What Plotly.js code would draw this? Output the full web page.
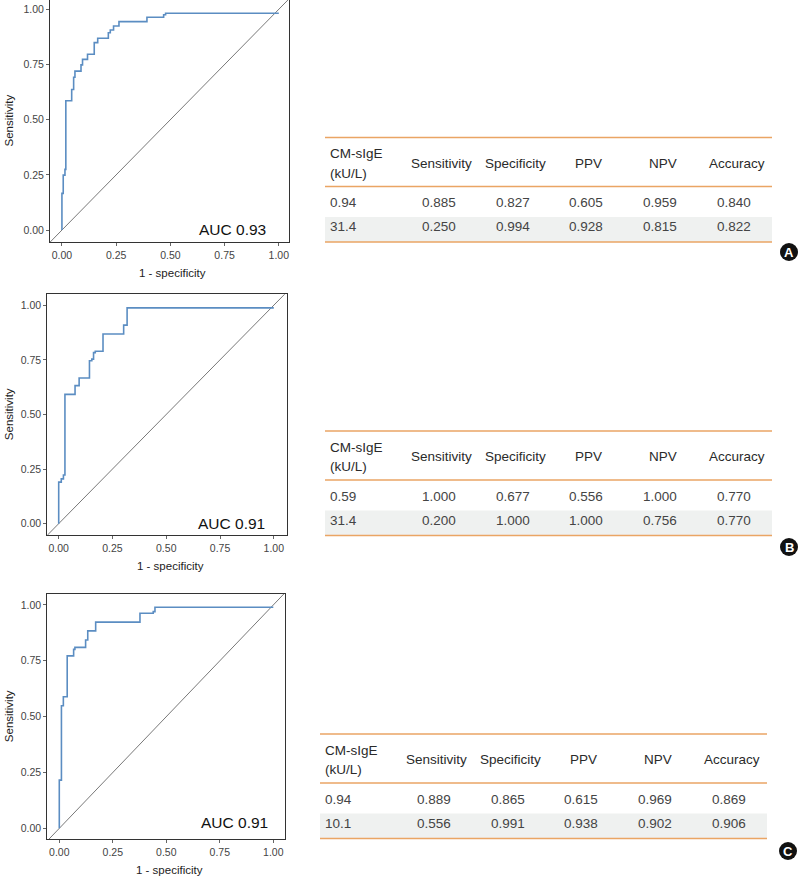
<!DOCTYPE html>
<html>
<head>
<meta charset="utf-8">
<script src="https://cdn.plot.ly/plotly-3.0.1.min.js"></script>
<style>html,body{margin:0;padding:0;background:#fff;}#chart{width:798px;height:879px;}</style>
</head>
<body>
<div id="chart"></div>
<script>
// ---- ROC data (1 - specificity, sensitivity) ----
const fprA = [0, 0, 0.006, 0.014, 0.018, 0.045, 0.054, 0.060, 0.088, 0.095, 0.118, 0.149, 0.165, 0.214, 0.223, 0.238, 0.263, 0.392, 0.469, 0.478, 1.0];
const tprA = [0, 0.166, 0.249, 0.275, 0.586, 0.637, 0.692, 0.720, 0.748, 0.773, 0.796, 0.849, 0.869, 0.894, 0.906, 0.924, 0.944, 0.964, 0.975, 0.982, 0.982];
const fprB = [0, 0, 0.012, 0.022, 0.029, 0.076, 0.095, 0.143, 0.154, 0.162, 0.170, 0.206, 0.302, 0.318, 1.0];
const tprB = [0, 0.190, 0.205, 0.223, 0.592, 0.632, 0.667, 0.746, 0.753, 0.783, 0.789, 0.868, 0.909, 0.988, 0.988];
const fprC = [0, 0, 0.010, 0.019, 0.037, 0.067, 0.073, 0.123, 0.133, 0.170, 0.377, 0.439, 0.447, 1.0];
const tprC = [0, 0.216, 0.549, 0.589, 0.772, 0.801, 0.810, 0.843, 0.884, 0.923, 0.963, 0.970, 0.990, 0.990];
const refLine = [-0.2, 1.2];
const aucLabels = ["AUC 0.93", "AUC 0.91", "AUC 0.91"];
const panelLabels = ["A", "B", "C"];
const xTickVals = [0, 0.25, 0.5, 0.75, 1];
const xTickText = ["0.00", "0.25", "0.50", "0.75", "1.00"];
const xTitle = "1 - specificity";
const yTitle = "Sensitivity";

// ---- Tables ----
const tableHeaders = ["Sensitivity", "Specificity", "PPV", "NPV", "Accuracy"];
const cutoffHeader = ["CM-sIgE", "(kU/L)"];
const cutoffsA = ["0.94", "31.4"];
const rowsA = [["0.885", "0.827", "0.605", "0.959", "0.840"], ["0.250", "0.994", "0.928", "0.815", "0.822"]];
const cutoffsB = ["0.59", "31.4"];
const rowsB = [["1.000", "0.677", "0.556", "1.000", "0.770"], ["0.200", "1.000", "1.000", "0.756", "0.770"]];
const cutoffsC = ["0.94", "10.1"];
const rowsC = [["0.889", "0.865", "0.615", "0.969", "0.869"], ["0.556", "0.991", "0.938", "0.902", "0.906"]];

const W = 798, H = 879;
const px = x => x / W;
const py = y => 1 - y / H;
const FONT = "Liberation Sans, Arial, sans-serif";
const BLUE = "#5b8dc2";
const ORANGE = "#eaa564";

const panels = [
  {fpr: fprA, tpr: tprA, xd: [50, 289], yd: [0, 242], xr: [-0.055, 1.047], yr: [-0.054, 1.042], auc: [232.7, 230], tbl: {top: 137.5, left: 325}, cut: cutoffsA, rows: rowsA, circ: [789, 252]},
  {fpr: fprB, tpr: tprB, xd: [47.3, 286.7], yd: [294.3, 535], xr: [-0.053, 1.06], yr: [-0.052, 1.05], auc: [231.3, 523.3], tbl: {top: 431, left: 325}, cut: cutoffsB, rows: rowsB, circ: [789, 547]},
  {fpr: fprC, tpr: tprC, xd: [47.3, 285.3], yd: [594, 839.3], xr: [-0.056, 1.056], yr: [-0.049, 1.049], auc: [234.7, 822.7], tbl: {top: 734, left: 320}, cut: cutoffsC, rows: rowsC, circ: [788, 851]}
];

const data = [];
const layout = {
  width: W, height: H,
  margin: {l: 0, r: 0, t: 0, b: 0},
  paper_bgcolor: "#fff", plot_bgcolor: "#fff",
  showlegend: false,
  font: {family: FONT, color: "#333"},
  shapes: [], annotations: []
};

// column offsets relative to table left edge
const colCenters = [115, 188.5, 262, 336, 410];
const tblWidth = 447;

panels.forEach((p, i) => {
  const sx = i === 0 ? "" : String(i + 1);
  const xa = "x" + sx, ya = "y" + sx;
  data.push({x: refLine, y: refLine, xaxis: xa, yaxis: ya, mode: "lines", line: {color: "#555", width: 0.8}, hoverinfo: "skip"});
  data.push({x: p.fpr, y: p.tpr, xaxis: xa, yaxis: ya, mode: "lines", line: {color: BLUE, width: 1.6, shape: "hv"}});
  const axCommon = {showgrid: false, zeroline: false, showline: true, mirror: true, linecolor: "#333", linewidth: 1,
    ticks: "outside", ticklen: 3, tickcolor: "#666", tickwidth: 1,
    tickfont: {family: FONT, size: 10.5, color: "#444"}, fixedrange: true};
  layout["xaxis" + sx] = Object.assign({}, axCommon, {domain: [px(p.xd[0]), px(p.xd[1])], range: p.xr, anchor: ya,
    tickvals: xTickVals, ticktext: xTickText});
  layout["yaxis" + sx] = Object.assign({}, axCommon, {domain: [py(p.yd[1]), py(p.yd[0])], range: p.yr, anchor: xa,
    tickvals: xTickVals, ticktext: xTickText});
  // axis titles
  layout.annotations.push({xref: "paper", yref: "paper", x: px((p.xd[0] + p.xd[1]) / 2 + 3), y: py(p.yd[1] + 31), text: xTitle,
    showarrow: false, xanchor: "center", yanchor: "middle", font: {family: FONT, size: 11.5, color: "#222"}});
  layout.annotations.push({xref: "paper", yref: "paper", x: px(8.5), y: py((p.yd[0] + p.yd[1]) / 2), text: yTitle, textangle: -90,
    showarrow: false, xanchor: "center", yanchor: "middle", font: {family: FONT, size: 11.5, color: "#222"}});
  // AUC label
  layout.annotations.push({xref: "paper", yref: "paper", x: px(p.auc[0]), y: py(p.auc[1]), text: aucLabels[i],
    showarrow: false, xanchor: "center", yanchor: "middle", font: {family: FONT, size: 15.5, color: "#111"}});

  // ---- table ----
  const t = p.tbl, L = t.left, R = t.left + tblWidth;
  layout.shapes.push({type: "rect", xref: "paper", yref: "paper", x0: px(L), x1: px(R), y0: py(t.top + 104.5), y1: py(t.top + 79.5),
    fillcolor: "#eff1f0", line: {width: 0}, layer: "below"});
  [0, 49, 104.5].forEach(dy => {
    layout.shapes.push({type: "line", xref: "paper", yref: "paper", x0: px(L), x1: px(R), y0: py(t.top + dy), y1: py(t.top + dy),
      line: {color: ORANGE, width: 1.5}});
  });
  const tf = {family: FONT, size: 13.5, color: "#2a2a2a"};
  const vf = {family: FONT, size: 13.5, color: "#444"};
  layout.annotations.push({xref: "paper", yref: "paper", x: px(L + 3), y: py(t.top + 16), text: cutoffHeader[0], showarrow: false, xanchor: "left", yanchor: "middle", font: tf});
  layout.annotations.push({xref: "paper", yref: "paper", x: px(L + 3), y: py(t.top + 35.5), text: cutoffHeader[1], showarrow: false, xanchor: "left", yanchor: "middle", font: tf});
  tableHeaders.forEach((h, j) => {
    layout.annotations.push({xref: "paper", yref: "paper", x: px(L + colCenters[j] + 1.5), y: py(t.top + 25.5), text: h, showarrow: false, xanchor: "center", yanchor: "middle", font: tf});
  });
  const rowY = [65, 89.5];
  p.rows.forEach((row, r) => {
    layout.annotations.push({xref: "paper", yref: "paper", x: px(L + 3), y: py(t.top + rowY[r]), text: p.cut[r], showarrow: false, xanchor: "left", yanchor: "middle", font: vf});
    row.forEach((v, j) => {
      layout.annotations.push({xref: "paper", yref: "paper", x: px(L + colCenters[j] - 1), y: py(t.top + rowY[r]), text: v, showarrow: false, xanchor: "center", yanchor: "middle", font: vf});
    });
  });
  // panel letter
  const cr = 9;
  layout.shapes.push({type: "circle", xref: "paper", yref: "paper", x0: px(p.circ[0] - cr), x1: px(p.circ[0] + cr), y0: py(p.circ[1] + cr), y1: py(p.circ[1] - cr),
    fillcolor: "#111", line: {width: 0}});
  layout.annotations.push({xref: "paper", yref: "paper", x: px(p.circ[0]), y: py(p.circ[1]), text: "<b>" + panelLabels[i] + "</b>", showarrow: false,
    xanchor: "center", yanchor: "middle", font: {family: FONT, size: 13, color: "#fff"}});
});

Plotly.newPlot("chart", data, layout, {displayModeBar: false, staticPlot: true});
</script>
</body>
</html>
